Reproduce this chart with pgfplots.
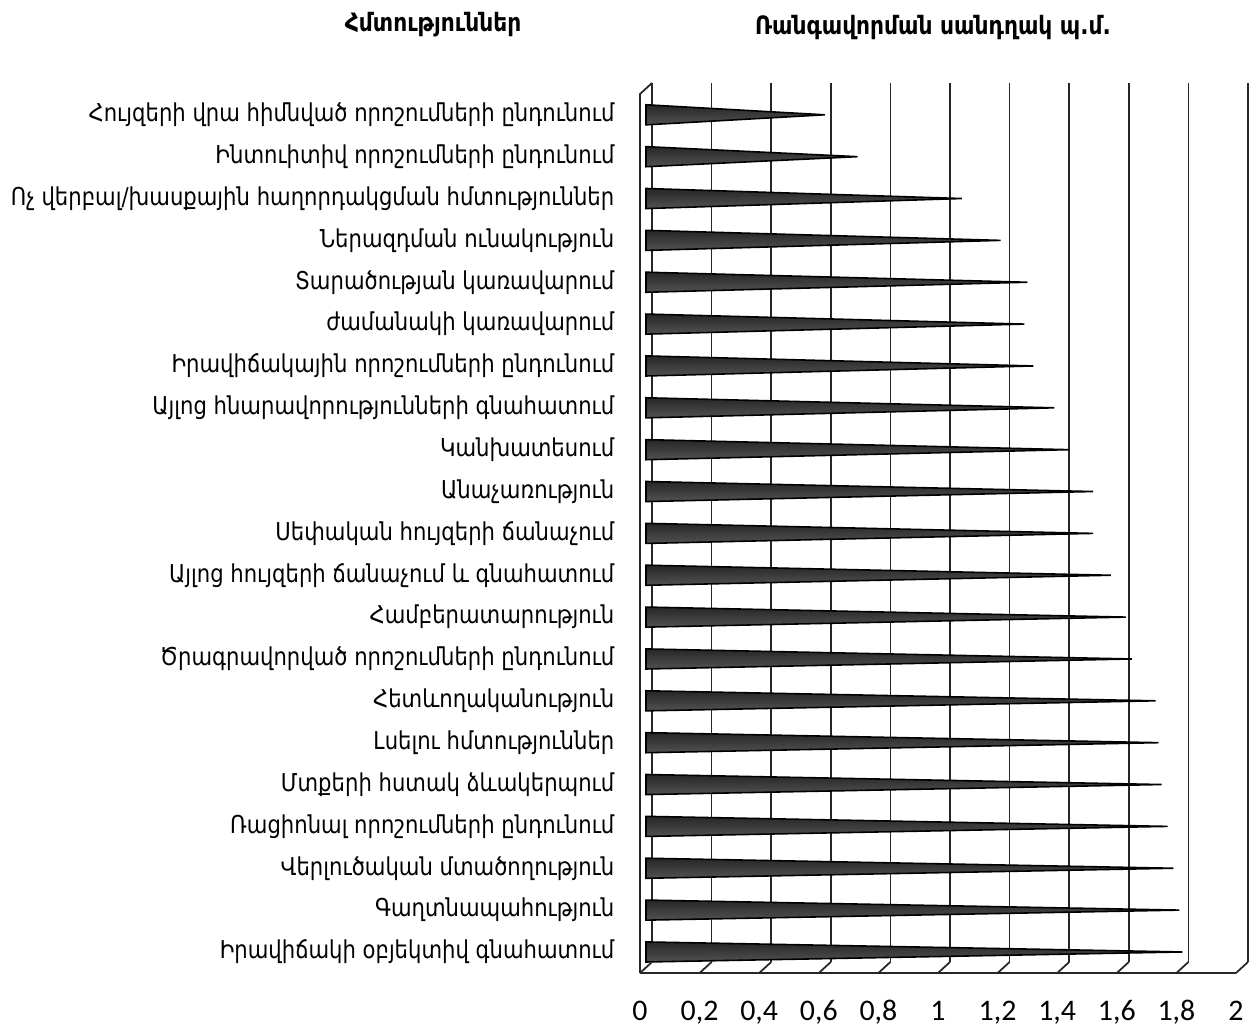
\documentclass[border=0pt]{standalone}
\usepackage{fontspec}
\setmainfont{DejaVu Sans}
\newfontfamily\labfont{DejaVu Sans}[FakeStretch=0.86]
\newfontfamily\numfont{Carlito}
\usepackage{pgfplots}
\usepackage{pgfplotstable}
\pgfplotsset{compat=1.18}

% bottom (idx 0) to top (idx 20)
\pgfplotstableread{
idx v
0  1.80
1  1.79
2  1.77
3  1.75
4  1.73
5  1.72
6  1.71
7  1.63
8  1.61
9  1.56
10 1.50
11 1.50
12 1.42
13 1.37
14 1.30
15 1.27
16 1.28
17 1.19
18 1.06
19 0.71
20 0.60
}\data

\begin{document}
\begin{tikzpicture}
\path[use as bounding box] (0,0) rectangle (12.5,-10.25);
\node[font=\labfont\fontsize{7.2pt}{8pt}\selectfont\bfseries] at (4.33,-0.25) {Հմտություններ};
\node[font=\labfont\fontsize{7.2pt}{8pt}\selectfont\bfseries] at (9.33,-0.28) {Ռանգավորման սանդղակ պ.մ.};
\begin{axis}[
  at={(6.52cm,-9.62cm)}, anchor=south west,
  scale only axis, width=5.96cm, height=8.79cm,
  xmin=0, xmax=2, ymin=-0.24, ymax=20.76,
  axis line style={draw=none},
  major tick length=0pt,
  xtick={0,0.2,0.4,0.6,0.8,1,1.2,1.4,1.6,1.8,2},
  xmajorgrids, ymajorgrids=false,
  grid style={black!85, line width=0.5pt},
  xticklabel style={font=\numfont\fontsize{8.5pt}{10pt}\selectfont, anchor=base, xshift=-0.12cm, yshift=-0.58cm},
  /pgf/number format/use comma,
  /pgf/number format/assume math mode=true,
  ytick={0,...,20},
  yticklabels={
    Իրավիճակի օբյեկտիվ գնահատում,
    Գաղտնապահություն,
    Վերլուծական մտածողություն,
    Ռացիոնալ որոշումների ընդունում,
    Մտքերի հստակ ձևակերպում,
    Լսելու հմտություններ,
    Հետևողականություն,
    Ծրագրավորված որոշումների ընդունում,
    Համբերատարություն,
    Այլոց հույզերի ճանաչում և գնահատում,
    Սեփական հույզերի ճանաչում,
    Անաչառություն,
    Կանխատեսում,
    Այլոց հնարավորությունների գնահատում,
    Իրավիճակային որոշումների ընդունում,
    ժամանակի կառավարում,
    Տարածության կառավարում,
    Ներազդման ունակություն,
    Ոչ վերբալ/խասքային հաղորդակցման հմտություններ,
    Ինտուիտիվ որոշումների ընդունում,
    Հույզերի վրա հիմնված որոշումների ընդունում},
  yticklabel style={font=\labfont\fontsize{7.0pt}{8pt}\selectfont, anchor=east, inner sep=0pt, xshift=-0.37cm},
  cone/.style={draw=black, line width=0.45pt, top color=black!85, middle color=black!50, bottom color=black!68, xshift=-0.06cm},
  clip=false,
]
\pgfplotsinvokeforeach{0,...,20}{
  \pgfplotstablegetelem{#1}{v}\of\data
  \let\val\pgfplotsretval
  \pgfmathsetmacro\ya{#1+0.24}
  \pgfmathsetmacro\yb{#1-0.24}
  \edef\cmd{\noexpand\addplot[cone] coordinates {(0,\ya) (\val,#1) (0,\yb)} --cycle;}
  \cmd
}
\pgfplotsinvokeforeach{0,0.2,0.4,0.6,0.8,1,1.2,1.4,1.6,1.8,2}{
  \draw[black!85, line width=0.5pt] (axis cs:#1,-0.24) -- ++(-0.12cm,-0.11cm);
}
\draw[black!85, line width=0.5pt] ([xshift=-0.12cm,yshift=-0.11cm]rel axis cs:0,0) -- ([xshift=-0.12cm,yshift=-0.11cm]rel axis cs:1,0);
\draw[black!85, line width=0.5pt] ([xshift=-0.12cm,yshift=-0.11cm]rel axis cs:0,0) -- ([xshift=-0.12cm,yshift=-0.11cm]rel axis cs:0,1) -- (rel axis cs:0,1);
\end{axis}
\end{tikzpicture}
\end{document}
